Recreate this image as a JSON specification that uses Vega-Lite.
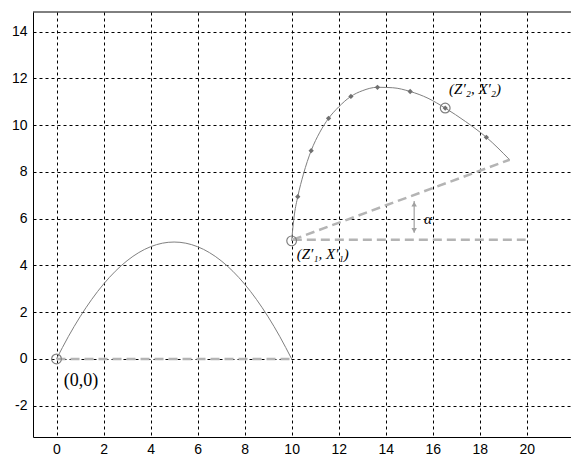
{
  "$schema": "https://vega.github.io/schema/vega-lite/v6.json",
  "autosize": {"type": "none"},
  "padding": {"left": 33, "top": 12, "right": 0, "bottom": 17},
  "width": 538,
  "height": 425,
  "background": "white",
  "config": {
    "view": {"stroke": null},
    "axis": {
      "domainColor": "black", "domainWidth": 1,
      "ticks": false,
      "labelFont": "Liberation Sans", "labelFontSize": 14, "labelColor": "black",
      "title": null,
      "gridColor": "black", "gridDash": [3, 3], "gridOpacity": 1, "gridWidth": 1
    },
    "axisX": {"labelPadding": 5},
    "axisY": {"labelPadding": 6}
  },
  "encoding": {
    "x": {"field": "x", "type": "quantitative",
          "scale": {"domain": [-1, 21.88], "nice": false, "zero": false},
          "axis": {"orient": "bottom", "values": [0, 2, 4, 6, 8, 10, 12, 14, 16, 18, 20, 22], "grid": true}},
    "y": {"field": "y", "type": "quantitative",
          "scale": {"domain": [-3.34, 14.84], "nice": false, "zero": false},
          "axis": {"orient": "left", "values": [-2, 0, 2, 4, 6, 8, 10, 12, 14], "grid": true,
                   "labelExpr": "datum.value < 0 ? '-' + abs(datum.value) : '' + datum.value"}}
  },
  "layer": [
    {
      "data": {"values": [
        {"x": 0, "y": 0}, {"x": 0.5, "y": 0.95}, {"x": 1, "y": 1.8}, {"x": 1.5, "y": 2.55},
        {"x": 2, "y": 3.2}, {"x": 2.5, "y": 3.75}, {"x": 3, "y": 4.2}, {"x": 3.5, "y": 4.55},
        {"x": 4, "y": 4.8}, {"x": 4.5, "y": 4.95}, {"x": 5, "y": 5.0}, {"x": 5.5, "y": 4.95},
        {"x": 6, "y": 4.8}, {"x": 6.5, "y": 4.55}, {"x": 7, "y": 4.2}, {"x": 7.5, "y": 3.75},
        {"x": 8, "y": 3.2}, {"x": 8.5, "y": 2.55}, {"x": 9, "y": 1.8}, {"x": 9.5, "y": 0.95},
        {"x": 10, "y": 0}
      ]},
      "mark": {"type": "line", "color": "#808080", "strokeWidth": 1, "interpolate": "monotone"}
    },
    {
      "data": {"values": [{"x": -1, "x2": 21.88, "y": 14.84}]},
      "mark": {"type": "rule", "color": "black", "strokeWidth": 1},
      "encoding": {"x2": {"field": "x2"}}
    },
    {
      "data": {"values": [
        {"x": 10.0, "y": 5.05}, {"x": 10.05, "y": 5.6}, {"x": 10.12, "y": 6.2}, {"x": 10.26, "y": 6.94},
        {"x": 10.5, "y": 7.9}, {"x": 10.83, "y": 8.91}, {"x": 11.2, "y": 9.7}, {"x": 11.57, "y": 10.29},
        {"x": 12.0, "y": 10.78}, {"x": 12.52, "y": 11.23}, {"x": 13.0, "y": 11.47}, {"x": 13.65, "y": 11.62},
        {"x": 14.3, "y": 11.6}, {"x": 15.04, "y": 11.44}, {"x": 15.8, "y": 11.15}, {"x": 16.53, "y": 10.73},
        {"x": 17.4, "y": 10.15}, {"x": 18.28, "y": 9.48}, {"x": 19.27, "y": 8.52}
      ]},
      "mark": {"type": "line", "color": "#808080", "strokeWidth": 1, "interpolate": "monotone"}
    },
    {
      "data": {"values": [
        {"seg": "base", "x": 0, "y": 0}, {"seg": "base", "x": 10, "y": 0},
        {"seg": "horiz", "x": 10.05, "y": 5.1}, {"seg": "horiz", "x": 19.95, "y": 5.1},
        {"seg": "diag", "x": 10.05, "y": 5.1}, {"seg": "diag", "x": 19.27, "y": 8.52}
      ]},
      "mark": {"type": "line", "color": "#b4b4b4", "strokeWidth": 2.5, "strokeDash": [9, 5]},
      "encoding": {"detail": {"field": "seg"}}
    },
    {
      "data": {"values": [
        {"x": 10.26, "y": 6.94}, {"x": 10.83, "y": 8.91}, {"x": 11.57, "y": 10.29}, {"x": 12.52, "y": 11.23},
        {"x": 13.65, "y": 11.62}, {"x": 15.04, "y": 11.44}, {"x": 16.53, "y": 10.73}, {"x": 18.28, "y": 9.48}
      ]},
      "mark": {"type": "point", "shape": "diamond", "filled": true, "color": "#707070", "size": 28, "opacity": 1}
    },
    {
      "data": {"values": [
        {"x": 0, "y": 0}, {"x": 10, "y": 5.05}, {"x": 16.53, "y": 10.73}
      ]},
      "mark": {"type": "point", "shape": "circle", "filled": false, "color": "#808080", "size": 95, "strokeWidth": 1.2, "opacity": 1}
    },
    {
      "data": {"values": [{"x": 15.21, "y": 5.4, "y2": 6.75}]},
      "mark": {"type": "rule", "color": "#a0a0a0", "strokeWidth": 1.2},
      "encoding": {"y2": {"field": "y2"}}
    },
    {
      "data": {"values": [
        {"x": 15.21, "y": 6.62, "shape": "triangle-up"},
        {"x": 15.21, "y": 5.5, "shape": "triangle-down"}
      ]},
      "mark": {"type": "point", "filled": true, "color": "#a0a0a0", "size": 30, "opacity": 1},
      "encoding": {"shape": {"field": "shape", "type": "nominal", "scale": null}}
    },
    {
      "data": {"values": [{"x": 1.04, "y": -0.94, "t": "(0,0)"}]},
      "mark": {"type": "text", "font": "Liberation Serif", "fontSize": 18, "color": "black", "align": "center", "baseline": "middle"},
      "encoding": {"text": {"field": "t"}}
    },
    {
      "data": {"values": [
        {"x": 11.32, "y": 4.49, "t": "(Z′₁, X′₁)"},
        {"x": 17.8, "y": 11.54, "t": "(Z′₂, X′₂)"},
        {"x": 15.8, "y": 5.99, "t": "α"}
      ]},
      "mark": {"type": "text", "font": "Liberation Serif", "fontStyle": "italic", "fontSize": 15, "color": "black", "align": "center", "baseline": "middle"},
      "encoding": {"text": {"field": "t"}}
    }
  ]
}
